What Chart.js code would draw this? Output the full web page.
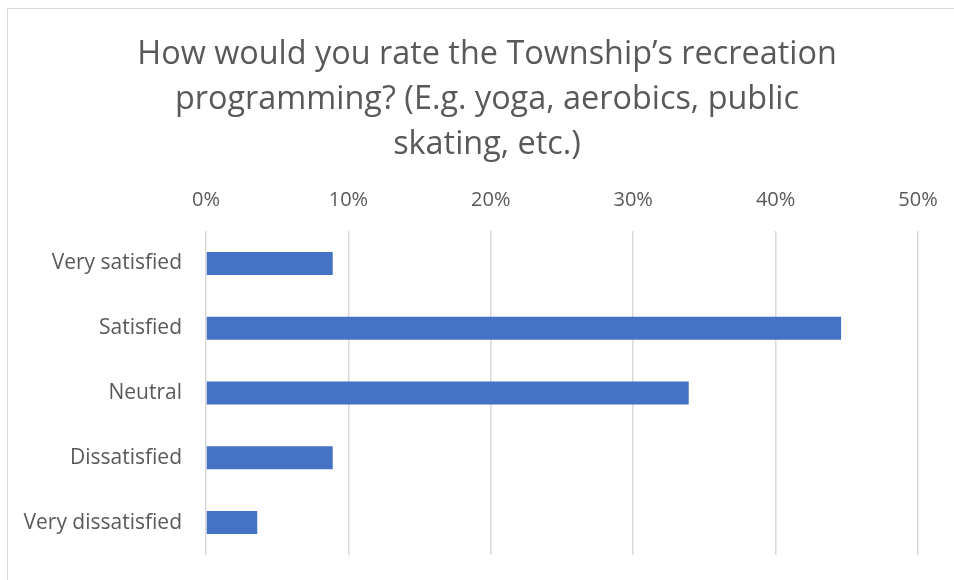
<!DOCTYPE html>
<html>
<head>
<meta charset="utf-8">
<script src="https://cdn.jsdelivr.net/npm/chart.js@4"></script>
<style>
  html, body { margin: 0; padding: 0; background: #ffffff; overflow: hidden; }
  .frame {
    position: absolute; left: 7px; top: 8px; width: 980px; height: 600px;
    border: 1px solid #d9d9d9; box-sizing: border-box;
  }
  .wrap { position: absolute; left: 0; top: 0; width: 954px; height: 580px; }
</style>
</head>
<body>
<div class="frame"></div>
<div class="wrap"><canvas id="ratingChart" width="954" height="580"></canvas></div>
<script>
// survey responses, share of respondents in %
const categories = ["Very satisfied", "Satisfied", "Neutral", "Dissatisfied", "Very dissatisfied"];
const shares = [8.9, 44.6, 33.9, 8.9, 3.6];
const tickSteps = [0, 10, 20, 30, 40, 50];

const titleLines = [
  "How would you rate the Township\u2019s recreation",
  "programming? (E.g. yoga, aerobics, public",
  "skating, etc.)"
];

const textColor = "#595959";
const gridColor = "#d9d9d9";
const fontFamily = "'Open Sans', sans-serif";

new Chart(document.getElementById("ratingChart"), {
  type: "bar",
  data: {
    labels: categories,
    datasets: [{
      data: shares,
      backgroundColor: "#4472C4",
      barPercentage: 0.355,
      categoryPercentage: 1
    }]
  },
  options: {
    indexAxis: "y",
    responsive: false,
    animation: false,
    layout: { padding: { left: 20, right: 0, top: 0, bottom: 25 } },
    plugins: {
      legend: { display: false },
      tooltip: { enabled: false },
      title: {
        display: true,
        text: titleLines,
        color: textColor,
        font: { family: fontFamily, size: 32.4, weight: "normal", lineHeight: 45 / 32.4 },
        padding: { top: 32, bottom: 2 }
      }
    },
    scales: {
      x: {
        position: "top",
        min: 0,
        max: 50,
        afterBuildTicks: axis => { axis.ticks = tickSteps.map(v => ({ value: v })); },
        afterFit: axis => {
          axis.paddingLeft = 0;
          axis.paddingRight = 0;
        },
        ticks: {
          color: textColor,
          font: { family: fontFamily, size: 20 },
          padding: 19,
          callback: v => v + "%"
        },
        grid: { color: gridColor, lineWidth: 1.5, drawTicks: false },
        border: { display: false }
      },
      y: {
        afterFit: axis => {
          axis.width = 186;
          axis.paddingBottom = 0;
        },
        ticks: {
          color: textColor,
          font: { family: fontFamily, size: 21 },
          padding: 16
        },
        grid: { display: false },
        border: { display: false }
      },
      // empty strip on the right so the plot ends short of the frame
      yRight: {
        type: "category",
        position: "right",
        afterFit: axis => { axis.width = 36; },
        ticks: { display: false },
        grid: { display: false },
        border: { display: false }
      }
    }
  }
});
</script>
</body>
</html>
